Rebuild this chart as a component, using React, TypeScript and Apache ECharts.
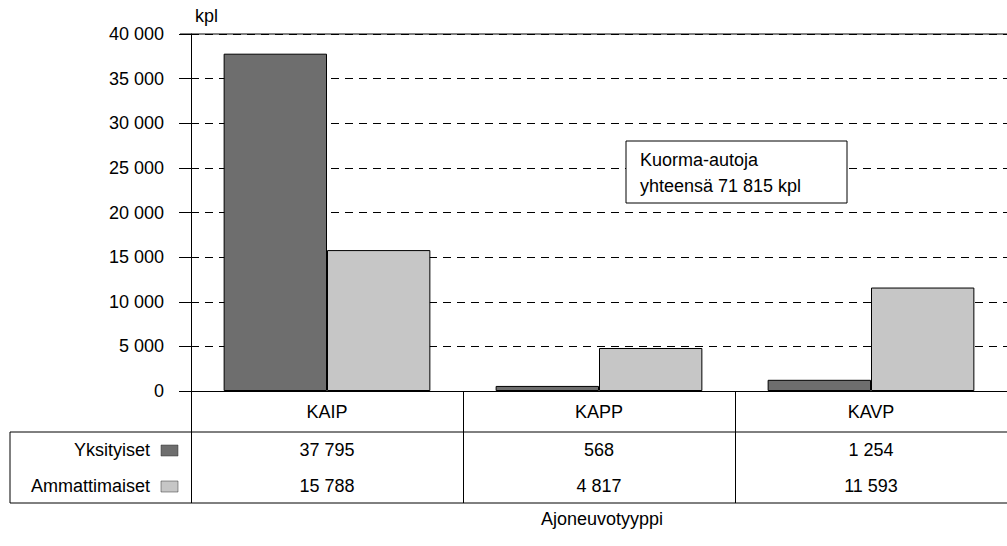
import React, { useEffect, useRef } from "react";
import * as echarts from "echarts";

const categories = ["KAIP", "KAPP", "KAVP"];
const seriesNames = ["Yksityiset", "Ammattimaiset"];
const yksityiset = [37795, 568, 1254];
const ammattimaiset = [15788, 4817, 11593];
const seriesColors = ["#6e6e6e", "#c6c6c6"];
const yMax = 40000;
const yInterval = 5000;
const unitLabel = "kpl";
const axisTitle = "Ajoneuvotyyppi";
const noteLines = ["Kuorma-autoja", "yhteensä 71 815 kpl"];

const fmt = (v: number) => String(v).replace(/\B(?=(\d{3})+(?!\d))/g, " ");

const FONT = "'Liberation Sans', Arial, sans-serif";

export default function App() {
  const ref = useRef<HTMLDivElement>(null);
  useEffect(() => {
    if (!ref.current) return;
    const chart = echarts.init(ref.current, null, { renderer: "svg" });
    const gridLeft = 191;
    const gridTop = 34;
    const gridH = 357;
    const gridW = 825;
    const tableTop = 432;
    const tableBottom = 503;
    const rowCenters = [450, 486];
    const series = [yksityiset, ammattimaiset];

    const graphic: any[] = [
      { type: "line", shape: { x1: 180, y1: gridTop, x2: 1007, y2: gridTop }, style: { stroke: "#000", lineWidth: 1 } },
      { type: "line", shape: { x1: 10, y1: tableTop, x2: 1007, y2: tableTop }, style: { stroke: "#000", lineWidth: 1 } },
      { type: "line", shape: { x1: 10, y1: tableBottom, x2: 1007, y2: tableBottom }, style: { stroke: "#000", lineWidth: 1 } },
      { type: "line", shape: { x1: 10, y1: tableTop, x2: 10, y2: tableBottom }, style: { stroke: "#000", lineWidth: 1 } },
      { type: "text", x: 195, y: 7, style: { text: unitLabel, font: `18px ${FONT}`, fill: "#000" } },
      { type: "text", x: 602, y: 519, style: { text: axisTitle, font: `18px ${FONT}`, fill: "#000", align: "center", verticalAlign: "middle" } },
      { type: "rect", shape: { x: 626, y: 141, width: 221, height: 62 }, style: { fill: "#fff", stroke: "#000", lineWidth: 1 }, z: 100 },
      { type: "text", x: 640, y: 160, z: 101, style: { text: noteLines[0], font: `18px ${FONT}`, fill: "#000", verticalAlign: "middle" } },
      { type: "text", x: 640, y: 186, z: 101, style: { text: noteLines[1], font: `18px ${FONT}`, fill: "#000", verticalAlign: "middle" } },
    ];
    seriesNames.forEach((n, i) => {
      graphic.push({ type: "text", x: 150, y: rowCenters[i], style: { text: n, font: `18px ${FONT}`, fill: "#000", align: "right", verticalAlign: "middle" } });
      graphic.push({ type: "rect", shape: { x: 161, y: rowCenters[i] - 5, width: 17, height: 11 }, style: { fill: seriesColors[i], stroke: "#333", lineWidth: 0.5 } });
    });

    chart.setOption({
      animation: false,
      backgroundColor: "#fff",
      grid: { left: gridLeft, top: gridTop, width: gridW, height: gridH, containLabel: false },
      xAxis: {
        type: "category",
        data: categories,
        axisLine: { show: true, lineStyle: { color: "#000", width: 1 } },
        axisTick: { show: true, length: tableBottom - (gridTop + gridH), interval: 0, lineStyle: { color: "#000" } },
        axisLabel: {
          interval: 0,
          margin: 1,
          formatter: (_v: string, idx: number) =>
            `{c|${categories[idx]}}\n{v|${fmt(yksityiset[idx])}}\n{v|${fmt(ammattimaiset[idx])}}`,
          rich: {
            c: { fontFamily: FONT, fontSize: 18, lineHeight: 40, color: "#000" },
            v: { fontFamily: FONT, fontSize: 18, lineHeight: 36, color: "#000" },
          },
        },
      },
      yAxis: [
        {
          type: "value",
          min: 0,
          max: yMax,
          interval: yInterval,
          axisLine: { show: true, lineStyle: { color: "#000", width: 1 } },
          axisTick: { show: true, length: 12, lineStyle: { color: "#000" } },
          axisLabel: { margin: 27, formatter: (v: number) => fmt(v), fontFamily: FONT, fontSize: 18, color: "#000" },
          splitLine: { show: true, lineStyle: { color: "#000", type: [8, 6], width: 1 } },
        },
        {
          type: "value",
          min: 0,
          max: yMax,
          interval: yInterval,
          position: "left",
          axisLine: { show: false },
          axisTick: { show: true, inside: true, length: 8, lineStyle: { color: "#000" } },
          axisLabel: { show: false },
          splitLine: { show: false },
        },
      ],
      series: seriesNames.map((n, i) => ({
        name: n,
        type: "bar",
        data: series[i],
        barGap: "0%",
        barCategoryGap: "24%",
        itemStyle: { color: seriesColors[i], borderColor: "#000", borderWidth: 1 },
      })),
      graphic,
    });
    return () => chart.dispose();
  }, []);
  return <div ref={ref} style={{ position: "fixed", left: 0, top: 0, width: 1007, height: 546 }} />;
}
